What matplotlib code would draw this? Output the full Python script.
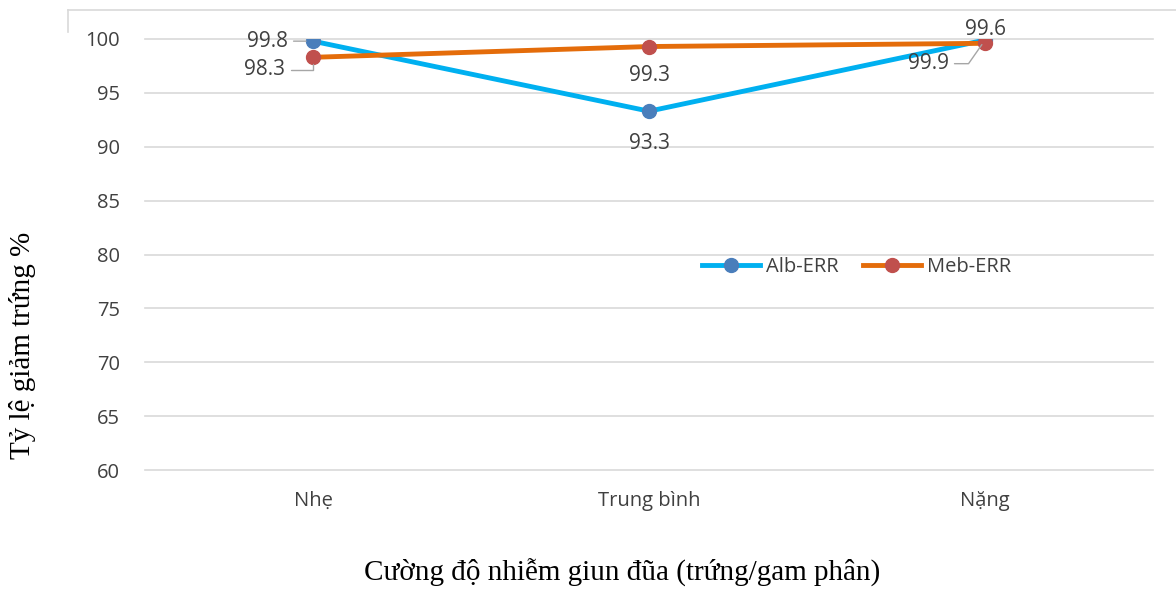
import matplotlib.pyplot as plt
from matplotlib.lines import Line2D

# data
categories = ['Nhẹ', 'Trung bình', 'Nặng']
alb_err = [99.8, 93.3, 99.9]
meb_err = [98.3, 99.3, 99.6]
y_ticks = [60, 65, 70, 75, 80, 85, 90, 95, 100]

blue_line = '#00B0F0'
blue_mark = '#4A7EBB'
orange_line = '#E46C0A'
orange_mark = '#C0504D'
txt_col = '#404040'
grid_col = '#D9D9D9'
lead_col = '#A6A6A6'

plt.rcParams['font.family'] = ['Open Sans', 'DejaVu Sans']

fig = plt.figure(figsize=(11.76, 5.89), dpi=100)
ax = fig.add_axes([0.1233, 0.2020, 0.8572, 0.7318])

x = list(range(len(categories)))
ax.plot(x, alb_err, '-o', color=blue_line, lw=3.5, ms=10,
        mfc=blue_mark, mec=blue_mark, label='Alb-ERR', zorder=3)
ax.plot(x, meb_err, '-o', color=orange_line, lw=3.5, ms=10,
        mfc=orange_mark, mec=orange_mark, label='Meb-ERR', zorder=3)

ax.set_xlim(-0.5, 2.5)
ax.set_ylim(60, 100)
ax.set_yticks(y_ticks)
ax.set_xticks(x)
ax.set_xticklabels(categories)
ax.tick_params(length=0, labelsize=14.5, labelcolor=txt_col)
ax.tick_params(axis='x', pad=15)
ax.tick_params(axis='y', pad=18)
ax.grid(axis='y', color=grid_col, lw=1.2)
for gl in ax.get_ygridlines():
    gl.set_clip_on(False)
ax.set_axisbelow(True)
for s in ax.spines.values():
    s.set_visible(False)

# data labels
lbl = dict(fontsize=15, color=txt_col, textcoords='offset points')
ax.annotate(f'{alb_err[0]}', (0, alb_err[0]), xytext=(-18, 0), ha='right', va='center',
            arrowprops=dict(arrowstyle='-', color=lead_col, lw=1, shrinkA=2, shrinkB=5), **lbl)
ax.annotate(f'{meb_err[0]}', (0, meb_err[0]), xytext=(-20, -9), ha='right', va='center',
            arrowprops=dict(arrowstyle='-', color=lead_col, lw=1, shrinkA=2, shrinkB=5,
                            relpos=(1, 0.5),
                            connectionstyle='angle,angleA=0,angleB=90,rad=0'), **lbl)
ax.annotate(f'{alb_err[1]}', (1, alb_err[1]), xytext=(0, -23), ha='center', va='center', **lbl)
ax.annotate(f'{meb_err[1]}', (1, meb_err[1]), xytext=(0, -21), ha='center', va='center', **lbl)
ax.annotate(f'{meb_err[2]}', (2, meb_err[2]), xytext=(0, 10), ha='center', va='center', **lbl)
ax.annotate(f'{alb_err[2]}', (2, alb_err[2]), xytext=(-26, -17), ha='right', va='center',
            arrowprops=dict(arrowstyle='-', color=lead_col, lw=1, shrinkA=2, shrinkB=4,
                            relpos=(1, 0.5),
                            connectionstyle='angle,angleA=0,angleB=55,rad=0'), **lbl)

leg = ax.legend(loc='center', bbox_to_anchor=(0.706, 0.47), ncol=2, frameon=False,
                fontsize=14.5, handlelength=2.9, columnspacing=1.2, handletextpad=0.3)
for t in leg.get_texts():
    t.set_color(txt_col)

ax.set_ylabel('Tỷ lệ giảm trứng %', family='Liberation Serif', fontsize=21, color='black')
ax.yaxis.set_label_coords(-0.108, 0.29, transform=ax.transAxes)
fig.text(0.529, 0.027, 'Cường độ nhiễm giun đũa (trứng/gam phân)', family='Liberation Serif',
         fontsize=21, ha='center', va='center')

# chart area border (partly visible)
fig.add_artist(Line2D([68 / 1176, 1.0], [1 - 10 / 589, 1 - 10 / 589], color=grid_col, lw=1.2))
fig.add_artist(Line2D([68 / 1176, 68 / 1176], [1 - 10 / 589, 1 - 32 / 589], color=grid_col, lw=1.2))

fig.savefig('out.png', dpi=100)
